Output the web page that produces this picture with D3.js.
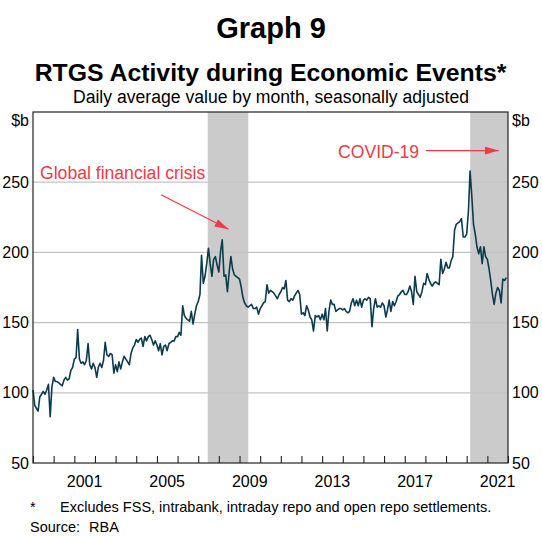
<!DOCTYPE html>
<html>
<head>
<meta charset="utf-8">
<script src="https://cdn.jsdelivr.net/npm/d3@7"></script>
<style>
  html, body { margin: 0; padding: 0; background: #fff; }
  svg { display: block; font-family: Arial, "Liberation Sans", Helvetica, sans-serif; }
</style>
</head>
<body>
<svg id="chart" width="542" height="536"></svg>
<script>
// ---------------- DATA ----------------
const firstMonth = "1999-01";
// Monthly RTGS daily average value, $b (Jan 1999 - Dec 2021)
const rtgsValues = [
  102, 91, 89, 87, 97, 99, 101, 99, 102, 106, 83, 104,        // 1999
  111, 108, 108, 107, 106, 105, 109, 111, 109, 110, 116, 118,  // 2000
  124, 125, 145, 124, 121, 122, 120, 123, 135, 120, 117, 121,  // 2001
  118, 111, 118, 121, 118, 123, 136, 127, 126, 128, 127, 114,  // 2002
  120, 115, 122, 117, 122, 126, 124, 122, 120, 128, 132, 134,  // 2003
  138, 136, 138, 139, 133, 140, 137, 140, 141, 138, 134, 137,  // 2004
  134, 130, 135, 127, 133, 134, 130, 135, 136, 137, 137, 140,  // 2005
  140, 143, 141, 162, 155, 153, 152, 151, 158, 149, 156, 162,  // 2006
  165, 170, 198, 178, 183, 192, 203, 192, 183, 195, 197, 191,  // 2007
  186, 201, 209, 183, 184, 172, 186, 197, 188, 184, 183, 182,  // 2008
  181, 175, 168, 164, 162, 161, 162, 163, 160, 160, 161, 156,  // 2009
  160, 162, 164, 165, 177, 171, 173, 172, 171, 169, 167, 170,  // 2010
  172, 175, 174, 180, 166, 165, 167, 166, 169, 171, 173, 170,  // 2011
  156, 157, 155, 162, 159, 154, 152, 144, 155, 154, 155, 152,  // 2012
  156, 152, 160, 144, 158, 166, 163, 163, 158, 159, 160, 160,  // 2013
  159, 160, 158, 157, 158, 164, 167, 162, 166, 162, 167, 161,  // 2014
  166, 167, 166, 168, 167, 147, 160, 167, 161, 162, 161, 164,  // 2015
  162, 154, 159, 166, 158, 165, 162, 165, 169, 170, 172, 173,  // 2016
  170, 170, 172, 176, 172, 163, 183, 172, 170, 168, 172, 178,  // 2017
  177, 185, 181, 178, 176, 178, 179, 178, 177, 195, 185, 188,  // 2018
  193, 189, 189, 194, 197, 216, 220, 221, 222, 224, 211, 211,  // 2019
  213, 229, 258, 240, 220, 213, 204, 199, 204, 192, 204, 197,  // 2020
  195, 188, 180, 170, 163, 171, 175, 173, 164, 181, 180, 182   // 2021
];
const xDomain = ["1999-01-01", "2022-01-01"];
const yDomain = [50, 300];
const yTicks = [50, 100, 150, 200, 250];
const gridValues = [100, 150, 200, 250];
const xLabelYears = [2001, 2005, 2009, 2013, 2017, 2021];
const eventNames = ["Global financial crisis", "COVID-19"];
const eventStarts = ["2007-06-18", "2020-03-03"];
const eventEnds = ["2009-06-05", "2022-01-01"];
const titleText = "Graph 9";
const subtitleText = "RTGS Activity during Economic Events*";
const unitsText = "Daily average value by month, seasonally adjusted";
const footnoteText = "Excludes FSS, intrabank, intraday repo and open repo settlements.";
const sourceText = "RBA";

// ---------------- LAYOUT ----------------
const W = 542, H = 536;
const plot = { left: 33, right: 508, top: 112, bottom: 463 };
const red = "#ef3a47";
const lineColor = "#0a3c4e";

const parse = d3.timeParse("%Y-%m-%d");
const parseM = d3.timeParse("%Y-%m");
const start = parseM(firstMonth);
const series = rtgsValues.map((v, i) => ({ date: d3.timeMonth.offset(start, i), value: v }));

const x = d3.scaleTime().domain(xDomain.map(parse)).range([plot.left, plot.right]);
const y = d3.scaleLinear().domain(yDomain).range([plot.bottom, plot.top]);

const svg = d3.select("#chart");

// titles
svg.append("text").attr("x", W / 2).attr("y", 38).attr("text-anchor", "middle")
  .attr("font-size", 29).attr("font-weight", "bold").attr("fill", "#000").text(titleText);
svg.append("text").attr("x", W / 2 - 0.5).attr("y", 81).attr("text-anchor", "middle")
  .attr("font-size", 24.8).attr("font-weight", "bold").attr("fill", "#000").text(subtitleText);
svg.append("text").attr("x", W / 2).attr("y", 103).attr("text-anchor", "middle")
  .attr("font-size", 17.6).attr("fill", "#000").text(unitsText);

// shaded event periods
svg.append("g").selectAll("rect").data(eventStarts).join("rect")
  .attr("x", (d) => x(parse(d)))
  .attr("width", (d, i) => x(parse(eventEnds[i])) - x(parse(d)))
  .attr("y", plot.top).attr("height", plot.bottom - plot.top)
  .attr("fill", "#cbcbcb");

// gridlines
svg.append("g").selectAll("line").data(gridValues).join("line")
  .attr("x1", plot.left).attr("x2", plot.right)
  .attr("y1", (d) => y(d)).attr("y2", (d) => y(d))
  .attr("stroke", "#c3c3c3").attr("stroke-width", 1.2);

// series line
const line = d3.line().x((d) => x(d.date)).y((d) => y(d.value));
svg.append("path").datum(series).attr("d", line)
  .attr("fill", "none").attr("stroke", lineColor).attr("stroke-width", 1.6)
  .attr("stroke-linejoin", "round");

// frame
svg.append("rect").attr("x", plot.left).attr("y", plot.top)
  .attr("width", plot.right - plot.left).attr("height", plot.bottom - plot.top)
  .attr("fill", "none").attr("stroke", "#222").attr("stroke-width", 1.2);

// x axis: inward yearly ticks, labels centred in each year
const xAxis = d3.axisBottom(x).ticks(d3.timeYear.every(1)).tickSize(-7).tickFormat("");
const gx = svg.append("g").attr("transform", `translate(0,${plot.bottom})`).call(xAxis);
gx.select(".domain").remove();
gx.selectAll(".tick line").attr("stroke", "#222").attr("stroke-width", 1.1);

svg.append("g").selectAll("text").data(xLabelYears).join("text")
  .attr("x", (d) => x(new Date(d, 6, 1)))
  .attr("y", 487).attr("text-anchor", "middle").attr("font-size", 16).attr("fill", "#000")
  .text((d) => d);

// y axes (left and right)
const yAxisL = d3.axisLeft(y).tickValues(yTicks).tickSize(0).tickPadding(4);
const gyl = svg.append("g").attr("transform", `translate(${plot.left},0)`).call(yAxisL);
const yAxisR = d3.axisRight(y).tickValues(yTicks).tickSize(0).tickPadding(4);
const gyr = svg.append("g").attr("transform", `translate(${plot.right},0)`).call(yAxisR);
[gyl, gyr].forEach((g) => {
  g.select(".domain").remove();
  g.selectAll("text").attr("font-size", 16).attr("fill", "#000")
    .attr("font-family", 'Arial, "Liberation Sans", sans-serif');
});
svg.append("text").attr("x", plot.left - 4).attr("y", 126).attr("text-anchor", "end")
  .attr("font-size", 16).text("$b");
svg.append("text").attr("x", plot.right + 4).attr("y", 126).attr("text-anchor", "start")
  .attr("font-size", 16).text("$b");

// annotations
const defs = svg.append("defs");
defs.append("marker").attr("id", "arrow").attr("viewBox", "0 0 14 8")
  .attr("refX", 14).attr("refY", 4).attr("markerWidth", 14).attr("markerHeight", 8)
  .attr("markerUnits", "userSpaceOnUse").attr("orient", "auto")
  .append("path").attr("d", "M0,0 L14,4 L0,8 Z").attr("fill", red);

// GFC label + arrow
svg.append("text").attr("x", 40).attr("y", 179).attr("font-size", 17.6).attr("fill", red)
  .text(eventNames[0]);
svg.append("line")
  .attr("x1", x(parse("2005-03-15"))).attr("y1", y(241))
  .attr("x2", x(parse("2008-06-20"))).attr("y2", y(216.5))
  .attr("stroke", red).attr("stroke-width", 1.2).attr("marker-end", "url(#arrow)");

// COVID label + arrow
svg.append("text").attr("x", 338).attr("y", 158).attr("font-size", 17.6).attr("fill", red)
  .text(eventNames[1]);
svg.append("line")
  .attr("x1", x(parse("2018-01-10"))).attr("y1", y(272.5))
  .attr("x2", x(parse("2021-07-20"))).attr("y2", y(272.5))
  .attr("stroke", red).attr("stroke-width", 1.2).attr("marker-end", "url(#arrow)");

// footnotes
svg.append("text").attr("x", 30).attr("y", 512).attr("font-size", 14.5).text("*");
svg.append("text").attr("x", 60).attr("y", 512).attr("font-size", 14.5).text(footnoteText);
svg.append("text").attr("x", 30).attr("y", 532).attr("font-size", 14.5).text("Source:");
svg.append("text").attr("x", 89).attr("y", 532).attr("font-size", 14.5).text(sourceText);
</script>
</body>
</html>
